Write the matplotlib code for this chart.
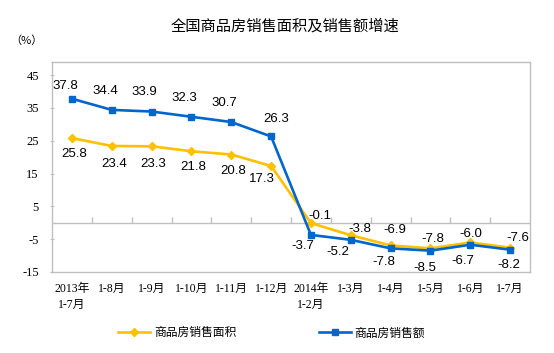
import numpy as np
import matplotlib
matplotlib.use("Agg")
import matplotlib.pyplot as plt

plt.rcParams['font.family'] = ['Liberation Sans', 'Noto Sans CJK SC', 'DejaVu Sans']

# data
months = ["2013年\n1-7月", "1-8月", "1-9月", "1-10月", "1-11月", "1-12月",
          "2014年\n1-2月", "1-3月", "1-4月", "1-5月", "1-6月", "1-7月"]
area = [25.8, 23.4, 23.3, 21.8, 20.8, 17.3, -0.1, -3.8, -6.9, -7.8, -6.0, -7.6]
sales = [37.8, 34.4, 33.9, 32.3, 30.7, 26.3, -3.7, -5.2, -7.8, -8.5, -6.7, -8.2]
yticks = [-15, -5, 5, 15, 25, 35, 45]

YEL = "#FFC000"
BLU = "#0066CC"
GRY = "#BFBFBF"

# label offsets in pixels (dx, dy)
area_off = [(2, -16), (2, -18), (2, -18), (2, -16), (2, -16), (-9, -13),
            (9, 7), (9, 6), (4, 15), (2, 9), (1, 8), (8, 10)]
sales_off = [(-7, 13), (-6, 19), (-7, 20), (-7, 19), (-7, 19), (5, 17),
             (-8, -11), (-13, -12), (-7, -14), (-6, -17), (-7, -16), (-1, -15)]

fig = plt.figure(figsize=(5.54, 3.53), dpi=100)
ax = fig.add_axes([0.0939, 0.2295, 0.8628, 0.5949])

x = np.arange(len(months))
ax.plot(x, area, color=YEL, lw=1.9, marker="D", ms=4.5, label="商品房销售面积", zorder=3)
ax.plot(x, sales, color=BLU, lw=1.9, marker="s", ms=4.5, label="商品房销售额", zorder=4)

for i, v in enumerate(area):
    ax.annotate(f"{v:.1f}", (i, v), xytext=area_off[i], textcoords="offset pixels",
                ha="center", va="center", fontsize=9.5, color="#000000")
for i, v in enumerate(sales):
    ax.annotate(f"{v:.1f}", (i, v), xytext=sales_off[i], textcoords="offset pixels",
                ha="center", va="center", fontsize=9.5, color="#000000")

ax.set_xlim(-0.5, len(months) - 0.5)
ax.set_ylim(-15, 49)
ax.set_yticks(yticks)
ax.set_yticklabels([str(t) for t in yticks], fontsize=9,
                   family=['Liberation Serif', 'DejaVu Serif'])
ax.tick_params(axis="y", length=3, direction="inout", color=GRY, pad=8)
ax.set_xticks(x)
ax.set_xticklabels(months, fontsize=8.5, linespacing=1.4,
                   family=['Liberation Serif', 'Noto Sans CJK SC'])
ax.tick_params(axis="x", length=0, pad=8)
for lbl in ax.get_xticklabels():
    lbl.set_verticalalignment("top")

for s in ax.spines.values():
    s.set_color(GRY)
    s.set_linewidth(1.0)

# zero axis with category-boundary tick marks
ax.axhline(0, color=GRY, lw=1.0, zorder=1)
ax.plot(np.arange(0.5, len(months) - 1), np.zeros(len(months) - 1), ls="",
        marker=2, ms=4, mew=1.0, color=GRY, zorder=1)

fig.text(0.515, 0.925, "全国商品房销售面积及销售额增速", ha="center", va="center",
         fontsize=11, family=['Noto Sans CJK SC'])
fig.text(0.018, 0.885, "（%）", ha="left", va="center", fontsize=8,
         family=['Noto Sans CJK SC'])

fig.legend(loc="center", bbox_to_anchor=(0.49, 0.057), ncol=2, frameon=False,
           handlelength=2.7, columnspacing=7.0, handletextpad=0.3,
           prop={'family': ['Noto Sans CJK SC'], 'size': 8.5})

fig.savefig("out.png", dpi=100)
